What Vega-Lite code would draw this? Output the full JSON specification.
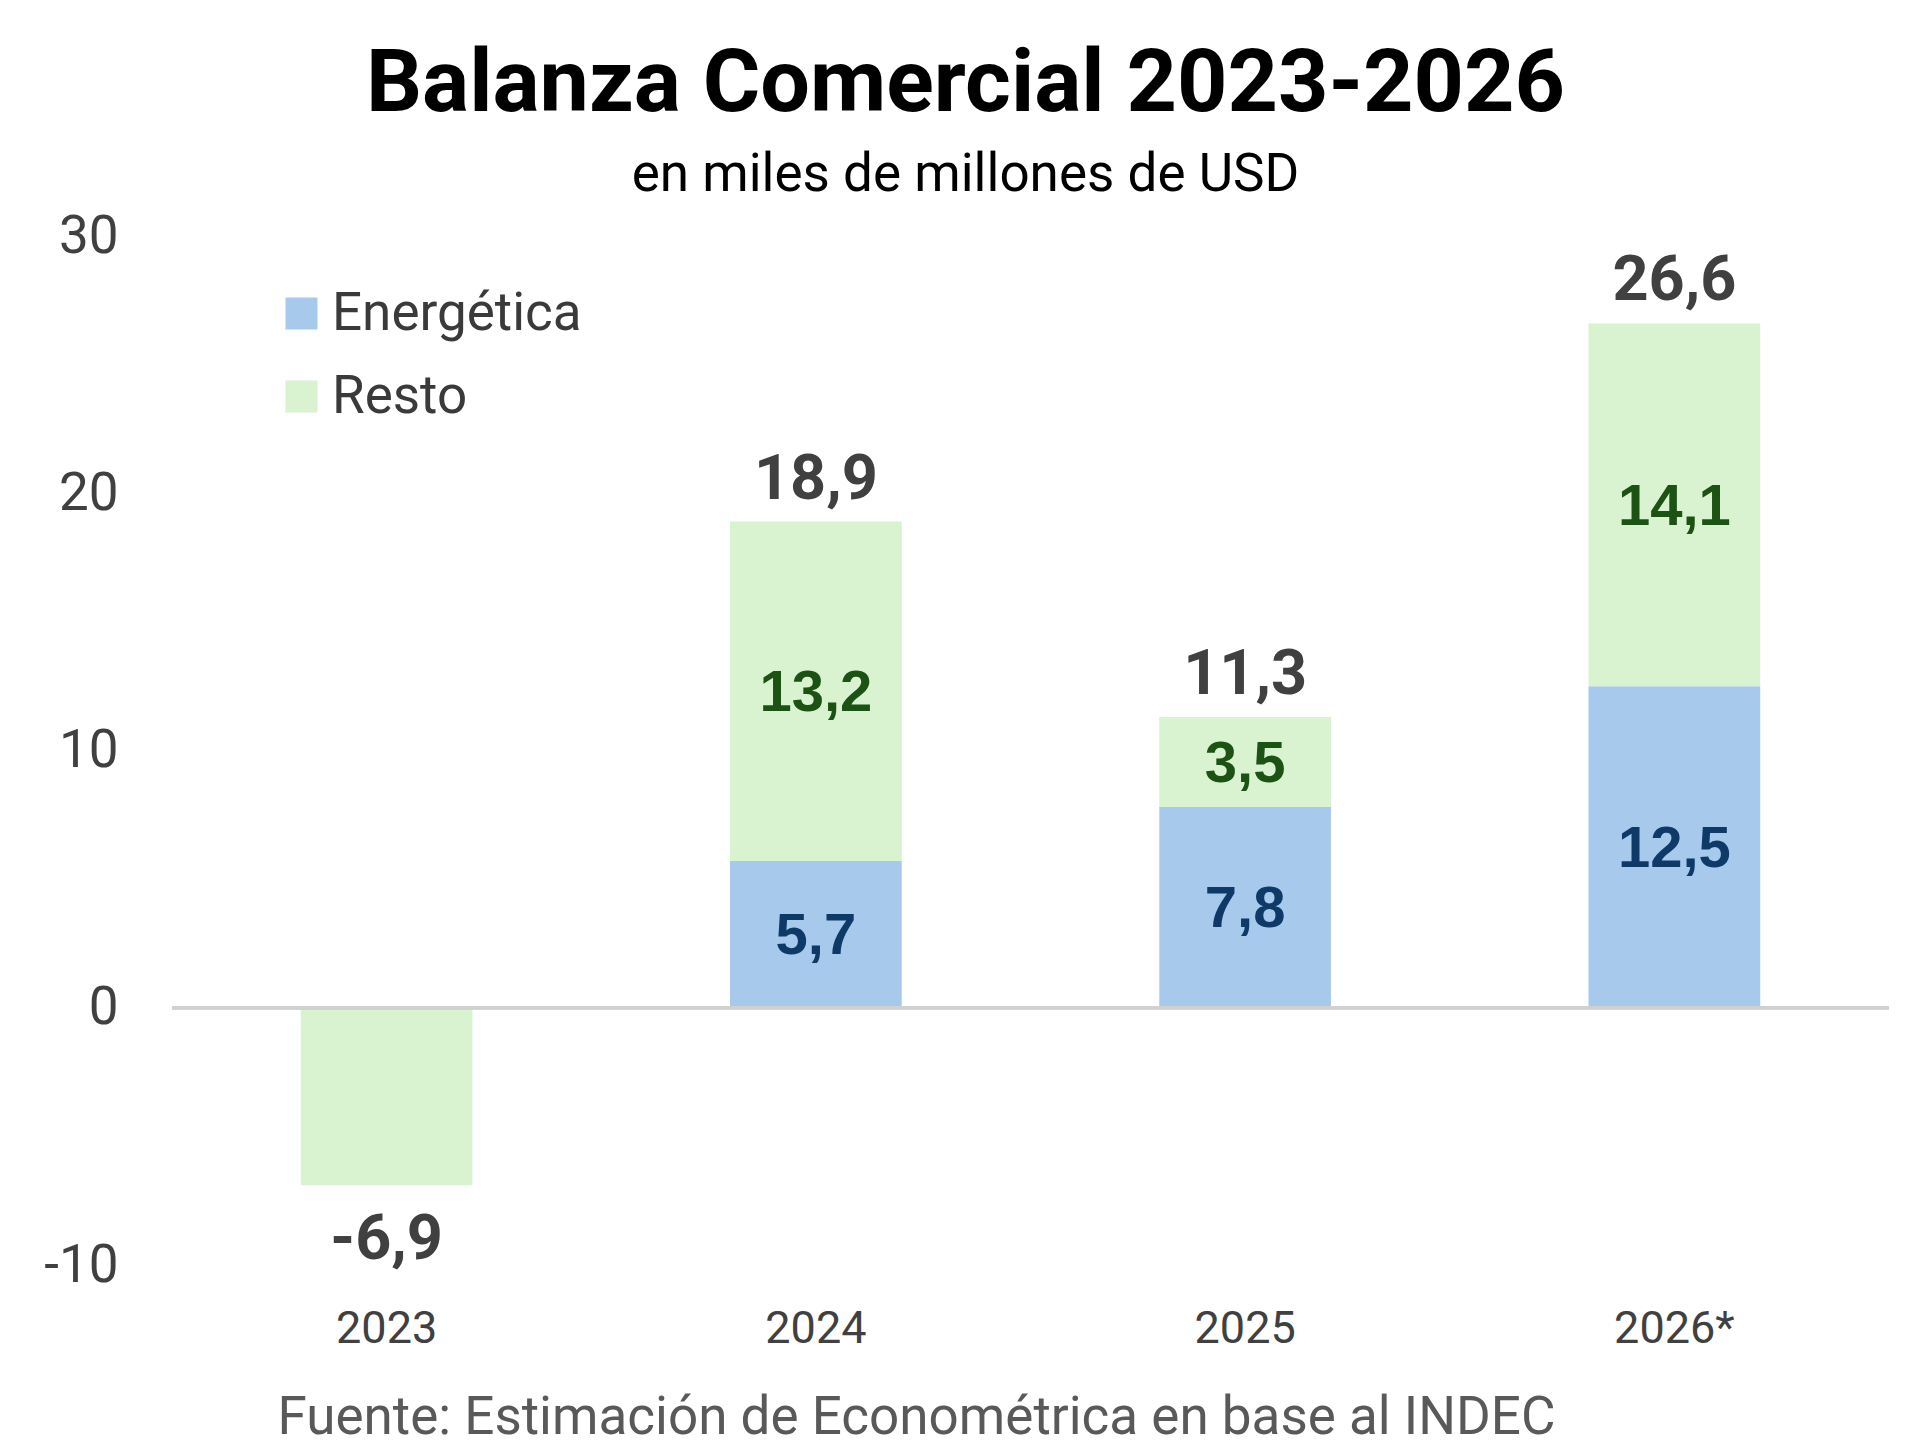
{
  "$schema": "https://vega.github.io/schema/vega-lite/v6.json",
  "width": 1717,
  "height": 1029,
  "autosize": "none",
  "padding": {"left": 172, "top": 236, "right": 31, "bottom": 181},
  "background": "white",
  "config": {
    "locale": {"number": {"decimal": ",", "thousands": ".", "grouping": [3], "currency": ["$", ""], "minus": "-"}},
    "view": {"stroke": null},
    "font": "Roboto"
  },
  "title": {
    "text": "Balanza Comercial 2023-2026",
    "subtitle": "en miles de millones de USD",
    "anchor": "middle",
    "frame": "group",
    "dx": -65,
    "font": "Roboto",
    "fontSize": 88,
    "fontWeight": "bold",
    "color": "#000000",
    "subtitleFont": "Roboto",
    "subtitleFontSize": 53,
    "subtitleColor": "#000000",
    "subtitlePadding": 20,
    "offset": 8
  },
  "data": {
    "values": [
      {"year": "2023", "tipo": "Resto", "valor": -6.9},
      {"year": "2024", "tipo": "Energética", "valor": 5.7},
      {"year": "2024", "tipo": "Resto", "valor": 13.2},
      {"year": "2025", "tipo": "Energética", "valor": 7.8},
      {"year": "2025", "tipo": "Resto", "valor": 3.5},
      {"year": "2026*", "tipo": "Energética", "valor": 12.5},
      {"year": "2026*", "tipo": "Resto", "valor": 14.1}
    ]
  },
  "layer": [
    {
      "mark": {"type": "bar"},
      "encoding": {
        "x": {
          "field": "year",
          "type": "nominal",
          "sort": null,
          "scale": {"paddingInner": 0.6, "paddingOuter": 0.3},
          "axis": {
            "orient": "bottom",
            "domain": false,
            "ticks": false,
            "tickSize": 0,
            "labelAngle": 0,
            "labelFont": "Roboto",
            "labelFontSize": 45,
            "labelColor": "#404040",
            "labelPadding": 63,
            "labelBaseline": "middle",
            "title": "Fuente: Estimación de Econométrica en base al INDEC",
            "titleFont": "Roboto",
            "titleFontSize": 53,
            "titleFontWeight": "normal",
            "titleColor": "#595959",
            "titleX": 744,
            "titleY": 168,
            "titleAlign": "center",
            "titleBaseline": "alphabetic",
            "titleLimit": 0
          }
        },
        "y": {
          "field": "valor",
          "type": "quantitative",
          "stack": "zero",
          "scale": {"domain": [-10, 30], "nice": false},
          "axis": {
            "values": [-10, 0, 10, 20, 30],
            "domain": false,
            "ticks": false,
            "tickSize": 0,
            "grid": false,
            "labelFont": "Roboto",
            "labelFontSize": 53,
            "labelColor": "#404040",
            "labelPadding": 54,
            "title": null
          }
        },
        "color": {
          "field": "tipo",
          "type": "nominal",
          "scale": {"domain": ["Energética", "Resto"], "range": ["#a6c9ec", "#d9f2d0"]},
          "legend": {
            "title": null,
            "orient": "none",
            "legendX": 103,
            "legendY": 51,
            "symbolType": "square",
            "symbolSize": 1024,
            "symbolStrokeWidth": 0,
            "labelFont": "Roboto",
            "labelFontSize": 53,
            "labelColor": "#3a3a3a",
            "labelOffset": 4,
            "labelLimit": 0,
            "rowPadding": 29
          }
        },
        "order": {"field": "tipo", "sort": "ascending"}
      }
    },
    {
      "mark": {"type": "rule", "color": "#d0d0d0", "strokeWidth": 3},
      "encoding": {"y": {"datum": 0, "type": "quantitative"}}
    },
    {
      "mark": {"type": "text", "font": "Liberation Sans", "fontWeight": "bold", "fontSize": 58, "baseline": "middle", "dy": 3},
      "transform": [{"filter": "datum.year != '2023'"}],
      "encoding": {
        "x": {"field": "year", "type": "nominal", "sort": null},
        "y": {"field": "valor", "type": "quantitative", "stack": "zero", "bandPosition": 0.5},
        "detail": {"field": "tipo"},
        "order": {"field": "tipo", "sort": "ascending"},
        "text": {"field": "valor", "type": "quantitative", "format": ".1f"},
        "fill": {
          "field": "tipo",
          "type": "nominal",
          "scale": {"domain": ["Energética", "Resto"], "range": ["#0f3a68", "#1c5214"]},
          "legend": null
        }
      }
    },
    {
      "mark": {"type": "text", "font": "Roboto", "fontWeight": "bold", "fontSize": 63, "baseline": "middle", "dy": -42, "color": "#404040"},
      "transform": [
        {"aggregate": [{"op": "sum", "field": "valor", "as": "total"}], "groupby": ["year"]},
        {"filter": "datum.total > 0"}
      ],
      "encoding": {
        "x": {"field": "year", "type": "nominal", "sort": null},
        "y": {"field": "total", "type": "quantitative"},
        "text": {"field": "total", "type": "quantitative", "format": ".1f"}
      }
    },
    {
      "mark": {"type": "text", "font": "Roboto", "fontWeight": "bold", "fontSize": 63, "baseline": "middle", "dy": 55, "color": "#404040"},
      "transform": [
        {"aggregate": [{"op": "sum", "field": "valor", "as": "total"}], "groupby": ["year"]},
        {"filter": "datum.total < 0"}
      ],
      "encoding": {
        "x": {"field": "year", "type": "nominal", "sort": null},
        "y": {"field": "total", "type": "quantitative"},
        "text": {"field": "total", "type": "quantitative", "format": ".1f"}
      }
    }
  ]
}
